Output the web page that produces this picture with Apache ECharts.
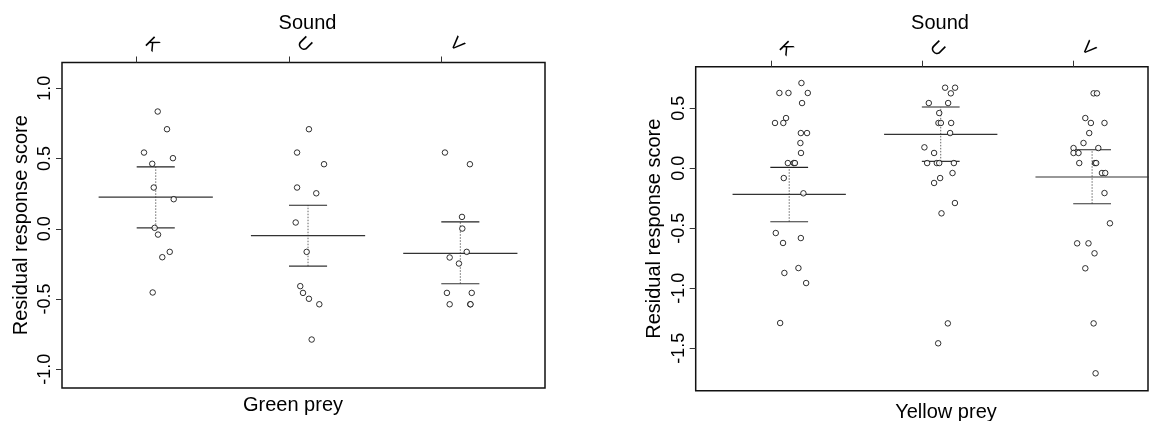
<!DOCTYPE html>
<html>
<head>
<meta charset="utf-8">
<script src="https://cdn.jsdelivr.net/npm/echarts@6/dist/echarts.min.js"></script>
<style>
  html, body { margin: 0; padding: 0; background: #fff; }
  #chart { width: 1174px; height: 421px; }
</style>
</head>
<body>
<div id="chart"></div>
<script>
// Sound categories on the top axis
const soundLabels = ['K', 'U', 'V'];
const soundPositions = [1, 2, 3];

// Y tick values for each panel
const yTicksGreen = [-1, -0.5, 0, 0.5, 1];
const yTicksYellow = [-1.5, -1, -0.5, 0, 0.5];

// Green prey: individual residual response scores [jittered position, score]
const greenK = [[1.138, 0.835], [1.199, 0.709], [1.048, 0.543], [1.238, 0.503], [1.102, 0.463], [1.112, 0.294],
  [1.243, 0.211], [1.118, 0.007], [1.140, -0.041], [1.217, -0.164], [1.168, -0.202], [1.105, -0.453]];
const greenU = [[2.131, 0.709], [2.053, 0.543], [2.230, 0.460], [2.053, 0.294], [2.179, 0.253], [2.044, 0.045],
  [2.116, -0.164], [2.074, -0.408], [2.092, -0.456], [2.131, -0.498], [2.199, -0.537], [2.149, -0.788]];
const greenV = [[3.024, 0.543], [3.188, 0.460], [3.136, 0.085], [3.138, 0.002], [3.167, -0.164], [3.055, -0.204],
  [3.116, -0.247], [3.037, -0.456], [3.200, -0.456], [3.055, -0.537], [3.190, -0.537], [3.192, -0.537]];

// Green prey: estimate and interval per sound [centre, mean, lower, upper]
const greenSummary = [[1.125, 0.225, 0.007, 0.441], [2.125, -0.048, -0.266, 0.168], [3.125, -0.174, -0.391, 0.050]];

// Yellow prey: individual residual response scores [jittered position, score]
const yellowK = [[1.203, 0.711], [1.057, 0.628], [1.117, 0.628], [1.245, 0.628], [1.207, 0.544], [1.101, 0.419],
  [1.028, 0.378], [1.083, 0.378], [1.199, 0.294], [1.240, 0.294], [1.196, 0.211], [1.200, 0.128],
  [1.113, 0.044], [1.152, 0.044], [1.160, 0.044], [1.086, -0.081], [1.216, -0.208], [1.033, -0.539],
  [1.199, -0.581], [1.081, -0.622], [1.183, -0.831], [1.090, -0.872], [1.234, -0.956], [1.062, -1.289]];
const yellowU = [[2.154, 0.672], [2.220, 0.672], [2.192, 0.625], [2.046, 0.544], [2.174, 0.544], [2.115, 0.461],
  [2.110, 0.378], [2.126, 0.378], [2.194, 0.378], [2.187, 0.294], [2.017, 0.175], [2.081, 0.128],
  [2.035, 0.044], [2.099, 0.044], [2.115, 0.044], [2.212, 0.044], [2.203, -0.039], [2.121, -0.081],
  [2.081, -0.122], [2.219, -0.289], [2.130, -0.375], [2.172, -1.292], [2.108, -1.458]];
const yellowV = [[3.137, 0.625], [3.159, 0.625], [3.082, 0.419], [3.119, 0.378], [3.209, 0.378], [3.108, 0.294],
  [3.070, 0.211], [3.004, 0.169], [3.168, 0.169], [3.004, 0.128], [3.037, 0.128], [3.042, 0.044],
  [3.146, 0.044], [3.154, 0.044], [3.192, -0.039], [3.214, -0.039], [3.209, -0.206], [3.245, -0.458],
  [3.028, -0.625], [3.103, -0.625], [3.143, -0.708], [3.082, -0.833], [3.137, -1.292], [3.150, -1.708]];

// Yellow prey: estimate and interval per sound [centre, mean, lower, upper]
const yellowSummary = [[1.122, -0.217, -0.445, 0.008], [2.125, 0.283, 0.058, 0.511], [3.127, -0.072, -0.295, 0.155]];

const FONT = '"Liberation Sans", Arial, Helvetica, sans-serif';
const MEAN_HALF = 0.375;
const BAR_HALF = 0.125;

function renderSummary(params, api) {
  const c = api.value(0), m = api.value(1), lo = api.value(2), hi = api.value(3);
  const seg = (x1, y1, x2, y2) => {
    const a = api.coord([x1, y1]);
    const b = api.coord([x2, y2]);
    return { x1: a[0], y1: a[1], x2: b[0], y2: b[1] };
  };
  return {
    type: 'group',
    children: [
      { type: 'line', shape: seg(c, lo, c, hi), style: { stroke: '#666', lineWidth: 1, lineDash: [1.5, 1.5] } },
      { type: 'line', shape: seg(c - MEAN_HALF, m, c + MEAN_HALF, m), style: { stroke: '#333', lineWidth: 1.2 } },
      { type: 'line', shape: seg(c - BAR_HALF, hi, c + BAR_HALF, hi), style: { stroke: '#222', lineWidth: 1.2 } },
      { type: 'line', shape: seg(c - BAR_HALF, lo, c + BAR_HALF, lo), style: { stroke: '#333', lineWidth: 1.2 } }
    ]
  };
}

function xAxisFor(gridIndex, min, max) {
  return {
    type: 'value', gridIndex, position: 'top', min, max,
    axisLine: { show: false, onZero: false },
    splitLine: { show: false },
    axisTick: { show: true, length: 6, customValues: soundPositions, lineStyle: { color: '#333', width: 1 } },
    axisLabel: {
      customValues: soundPositions,
      formatter: v => soundLabels[Math.round(v) - 1],
      rotate: 45, margin: 33, align: 'center', verticalAlign: 'middle',
      padding: [0, 0, 0, 43],
      fontFamily: FONT, fontSize: 18, color: '#000'
    }
  };
}

function yAxisFor(gridIndex, min, max, ticks) {
  return {
    type: 'value', gridIndex, min, max,
    name: 'Residual response score', nameLocation: 'middle', nameRotate: 90, nameGap: 31,
    nameTextStyle: { fontFamily: FONT, fontSize: 20, color: '#000' },
    axisLine: { show: false, onZero: false },
    splitLine: { show: false },
    axisTick: { show: true, length: 6, customValues: ticks, lineStyle: { color: '#333', width: 1 } },
    axisLabel: {
      customValues: ticks,
      formatter: v => v.toFixed(1),
      rotate: 90, margin: 17, align: 'center', verticalAlign: 'middle',
      fontFamily: FONT, fontSize: 18, color: '#000'
    }
  };
}

function pointsSeries(data, idx) {
  return {
    type: 'scatter', xAxisIndex: idx, yAxisIndex: idx, data,
    symbol: 'circle', symbolSize: 5.5, z: 5,
    itemStyle: { color: '#fff', borderColor: '#000', borderWidth: 1 },
    emphasis: { disabled: true }
  };
}

function summarySeries(data, idx) {
  return {
    type: 'custom', xAxisIndex: idx, yAxisIndex: idx, data,
    encode: { x: 0, y: 1 }, renderItem: renderSummary, clip: true, z: 3
  };
}

const chart = echarts.init(document.getElementById('chart'), null, { renderer: 'canvas' });
chart.setOption({
  animation: false,
  backgroundColor: '#fff',
  grid: [
    { left: 62, top: 62.5, width: 483, height: 325.5, show: true, borderColor: '#111', borderWidth: 1.5, backgroundColor: 'transparent' },
    { left: 695.7, top: 66.7, width: 452.3, height: 324, show: true, borderColor: '#111', borderWidth: 1.5, backgroundColor: 'transparent' }
  ],
  xAxis: [xAxisFor(0, 0.5095, 3.681), xAxisFor(1, 0.503, 3.497)],
  yAxis: [yAxisFor(0, -1.133, 1.184, yTicksGreen), yAxisFor(1, -1.853, 0.847, yTicksYellow)],
  graphic: [
    { type: 'text', x: 307.5, y: 23, style: { text: 'Sound', font: '20px ' + FONT, fill: '#000', align: 'center', verticalAlign: 'middle' } },
    { type: 'text', x: 940, y: 23, style: { text: 'Sound', font: '20px ' + FONT, fill: '#000', align: 'center', verticalAlign: 'middle' } },
    { type: 'text', x: 293, y: 405, style: { text: 'Green prey', font: '20px ' + FONT, fill: '#000', align: 'center', verticalAlign: 'middle' } },
    { type: 'text', x: 946, y: 412, style: { text: 'Yellow prey', font: '20px ' + FONT, fill: '#000', align: 'center', verticalAlign: 'middle' } }
  ],
  series: [
    summarySeries(greenSummary, 0),
    pointsSeries(greenK, 0), pointsSeries(greenU, 0), pointsSeries(greenV, 0),
    summarySeries(yellowSummary, 1),
    pointsSeries(yellowK, 1), pointsSeries(yellowU, 1), pointsSeries(yellowV, 1)
  ]
});
</script>
</body>
</html>
